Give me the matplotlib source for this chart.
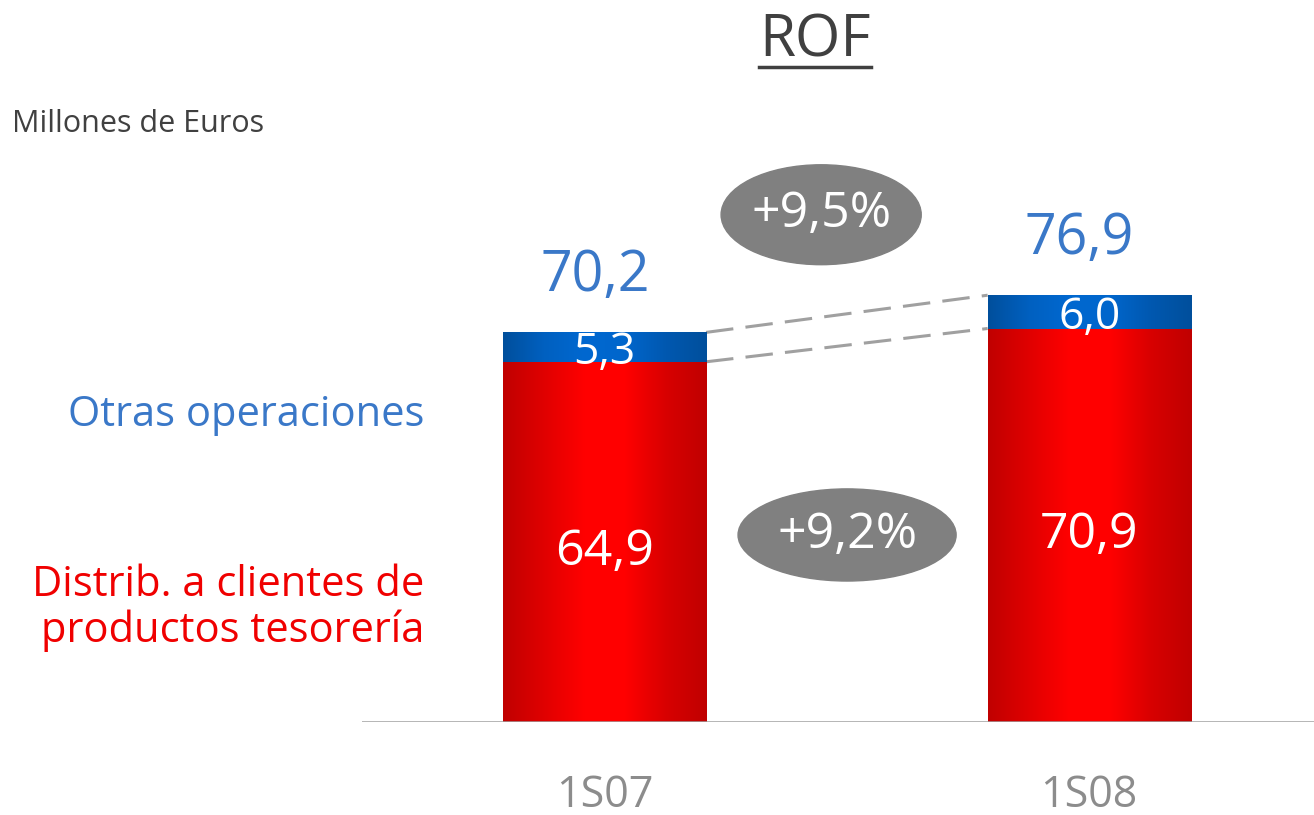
import matplotlib
matplotlib.use("Agg")
import matplotlib.pyplot as plt
import numpy as np
from matplotlib.patches import Ellipse
from matplotlib.colors import LinearSegmentedColormap

# data (millones de euros)
periods = ["1S07", "1S08"]
distrib = [64.9, 70.9]
otras = [5.3, 6.0]
totals = [70.2, 76.9]

W, H = 1314, 815
fig = plt.figure(figsize=(W / 100, H / 100), dpi=100)
plt.rcParams['font.family'] = ['Open Sans', 'DejaVu Sans']

# axes: baseline at y=722px, from x=362px to the right edge
ax = fig.add_axes([362 / W, (H - 722) / H, 1 - 362 / W, 722 / H])
ax.set_xlim(-0.5005, 1.464)
ax.set_ylim(0, 722 / 5.55)
ax.axis("off")

x = np.arange(len(periods))
bw = 0.419
red_bars = ax.bar(x, distrib, width=bw, color="#e00000", zorder=2)
blue_bars = ax.bar(x, otras, bottom=distrib, width=bw, color="#005bb5", zorder=2)

red_cm = LinearSegmentedColormap.from_list("r", ["#c00000", "#e00000", "#ff0000", "#ff0000", "#d80000", "#c00000"])
blue_cm = LinearSegmentedColormap.from_list("b", ["#004f9c", "#0060c0", "#0068d0", "#0066cc", "#0058b0", "#004f9c"])
grad = np.linspace(0, 1, 256).reshape(1, -1)
for bars, cm in [(red_bars, red_cm), (blue_bars, blue_cm)]:
    for p in bars:
        im = ax.imshow(grad, cmap=cm, aspect="auto", zorder=3,
                       extent=[p.get_x(), p.get_x() + p.get_width(), p.get_y(), p.get_y() + p.get_height()])
        im.set_clip_path(p)
ax.set_xlim(-0.5005, 1.464)
ax.set_ylim(0, 722 / 5.55)

# baseline
ax.axhline(0, color="#a0a0a0", lw=1.8, zorder=4)

# segment labels
for i in x:
    ax.text(i, distrib[i] / 2 - 1.8, f"{distrib[i]:.1f}".replace(".", ","), color="white",
            fontsize=36, ha="center", va="center", zorder=5)
    ax.text(i, distrib[i] + otras[i] / 2 - 1.0, f"{otras[i]:.1f}".replace(".", ","), color="white",
            fontsize=32, ha="center", va="center", zorder=5)
    ax.text(i - 0.02, totals[i] + 10, f"{totals[i]:.1f}".replace(".", ","), color="#3a78c8",
            fontsize=40, ha="center", va="center", zorder=5)
    ax.text(i, -13.2, periods[i], color="#8c8c8c", fontsize=31, ha="center", va="center",
            clip_on=False)

# dashed connectors between bars
x0 = x[0] + bw / 2
x1 = x[1] - bw / 2
for y0, y1 in [(totals[0], totals[1]), (distrib[0], distrib[1])]:
    ax.plot([x0, x1], [y0, y1], color="#a0a0a0", lw=2.2, dashes=(9, 4), zorder=1)

# growth bubbles
g_tot = (totals[1] / totals[0] - 1) * 100
g_dis = (distrib[1] / distrib[0] - 1) * 100
for (cx, cy, ew, eh, g) in [(0.447, 91.4, 0.413, 18.0, g_tot), (0.5005, 33.7, 0.45, 16.6, g_dis)]:
    ax.add_patch(Ellipse((cx, cy), ew, eh, color="#808080", zorder=4))
    ax.text(cx, cy, f"+{g:.1f}%".replace(".", ","), color="white", fontsize=36,
            ha="center", va="center", zorder=5)

# titles and legend-like labels
fig.text(815 / W, 1 - 41 / H, "ROF", color="#404040", fontsize=42, ha="center", va="center")
fig.add_artist(plt.Line2D([759 / W, 871 / W], [1 - 67 / H, 1 - 67 / H], color="#404040", lw=2.5))
fig.text(12 / W, 1 - 124 / H, "Millones de Euros", color="#404040", fontsize=22, ha="left", va="center")
fig.text(424 / W, 1 - 415 / H, "Otras operaciones", color="#3a78c8", fontsize=30, ha="right", va="center")
fig.text(424 / W, 1 - 608 / H, "Distrib. a clientes de\nproductos tesorería", color="#f00000",
         fontsize=30, ha="right", va="center", linespacing=1.08)

fig.savefig("out.png", dpi=100)
